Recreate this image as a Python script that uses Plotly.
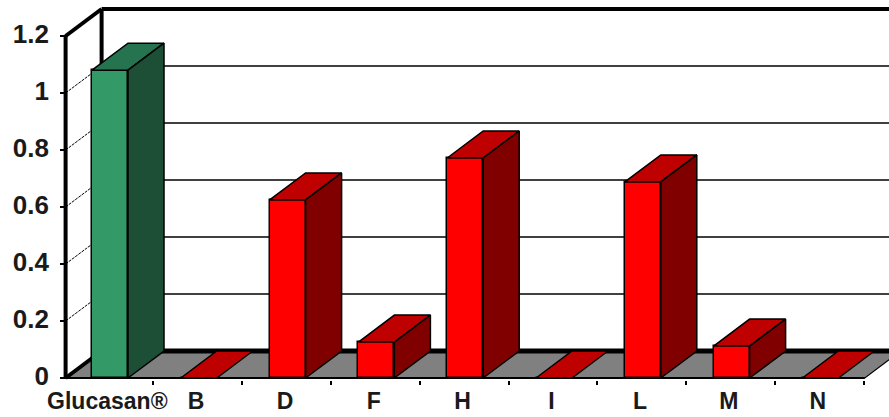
import plotly.graph_objects as go

# Chart data
categories = ["Glucasan®", "B", "D", "F", "H", "I", "L", "M", "N"]
values = [1.08, 0.0, 0.625, 0.126, 0.772, 0.0, 0.688, 0.112, 0.0]
y_ticks = [0, 0.2, 0.4, 0.6, 0.8, 1.0, 1.2]
y_tick_labels = ["0", "0.2", "0.4", "0.6", "0.8", "1", "1.2"]

# Axis scale and pseudo-3D extrusion
PX_PER_CAT = 88.8
PX_PER_UNIT = 285.0
BAR_WIDTH = 36 / PX_PER_CAT
DX = 36 / PX_PER_CAT
DY = 27 / PX_PER_UNIT
X_FRONT_LEFT = -0.5
X_FRONT_RIGHT = len(categories) - 0.5
Y_TOP = y_ticks[-1]
LABEL_SHIFT = 0.03
TICK_SHIFT = 0.012

# Face colours: front, top, side
GREEN = ("#339966", "#267350", "#1c4f36")
RED = ("#ff0000", "#bf0000", "#800000")
palette = [GREEN if i == 0 else RED for i in range(len(categories))]
FLOOR = "#808080"
INK = "#000000"
TEXT = "#1a1a1a"


def poly(points):
    return "M" + "L".join(f"{x},{y}" for x, y in points) + "Z"


def line_shape(x0, y0, x1, y1, width, dash="solid"):
    return dict(type="line", xref="x", yref="y", x0=x0, y0=y0, x1=x1, y1=y1,
                layer="below", line=dict(color=INK, width=width, dash=dash))


shapes = [
    # floor
    dict(type="path", xref="x", yref="y", layer="below", fillcolor=FLOOR,
         line=dict(color=INK, width=1.2),
         path=poly([(X_FRONT_LEFT, 0), (X_FRONT_RIGHT, 0),
                    (X_FRONT_RIGHT + DX, DY), (X_FRONT_LEFT + DX, DY)])),
]
# back-wall gridlines and their dashed returns on the side wall
for t in y_ticks[1:-1]:
    shapes.append(line_shape(X_FRONT_LEFT, t, X_FRONT_LEFT + DX, t + DY, 1, "3px,1px"))
    shapes.append(line_shape(X_FRONT_LEFT + DX, t + DY, X_FRONT_RIGHT + DX, t + DY, 1.5))
# heavy frame of the walls
shapes += [
    line_shape(X_FRONT_LEFT, 0, X_FRONT_LEFT, Y_TOP, 4),
    line_shape(X_FRONT_LEFT, Y_TOP, X_FRONT_LEFT + DX, Y_TOP + DY, 4),
    line_shape(X_FRONT_LEFT + DX, DY, X_FRONT_LEFT + DX, Y_TOP + DY, 4),
    line_shape(X_FRONT_LEFT + DX, Y_TOP + DY, X_FRONT_RIGHT + DX, Y_TOP + DY, 4),
    line_shape(X_FRONT_LEFT, 0, X_FRONT_LEFT + DX, DY, 4),
    line_shape(X_FRONT_LEFT + DX, DY, X_FRONT_RIGHT + DX, DY, 5),
    line_shape(X_FRONT_LEFT, 0, X_FRONT_RIGHT, 0, 2),
]

fig = go.Figure()

# Front faces
fig.add_trace(go.Bar(
    x=list(range(len(categories))), y=values, width=BAR_WIDTH,
    marker=dict(color=[p[0] for p in palette], line=dict(color=INK, width=1.5)),
    showlegend=False, hoverinfo="skip",
))

# Top and side faces extruded from each value
for i, v in enumerate(values):
    left, right = i - BAR_WIDTH / 2, i + BAR_WIDTH / 2
    top_x = [left, right, right + DX, left + DX, left]
    top_y = [v, v, v + DY, v + DY, v]
    fig.add_trace(go.Scatter(
        x=top_x, y=top_y, mode="lines", fill="toself", fillcolor=palette[i][1],
        line=dict(color=INK, width=1.5), showlegend=False, hoverinfo="skip",
    ))
    if v > 0:
        side_x = [right, right + DX, right + DX, right, right]
        side_y = [0, DY, v + DY, v, 0]
        fig.add_trace(go.Scatter(
            x=side_x, y=side_y, mode="lines", fill="toself", fillcolor=palette[i][2],
            line=dict(color=INK, width=1.5), showlegend=False, hoverinfo="skip",
        ))

MARGIN_L, MARGIN_T, MARGIN_B = 60, 5, 37
fig.update_layout(
    width=889, height=417,
    margin=dict(l=MARGIN_L, r=0, t=MARGIN_T, b=MARGIN_B, pad=0),
    paper_bgcolor="white", plot_bgcolor="white",
    shapes=shapes, showlegend=False, bargap=0,
    font=dict(family="Liberation Sans", color=TEXT),
    xaxis=dict(
        range=[(MARGIN_L - 110) / PX_PER_CAT, (889 - 110) / PX_PER_CAT],
        tickmode="array", tickvals=[i - LABEL_SHIFT for i in range(len(categories))],
        ticktext=categories,
        ticks="", showgrid=False, zeroline=False, showline=False,
        tickfont=dict(size=23, weight="bold", color=TEXT), tickangle=0,
        ticklabelstandoff=5,
        minor=dict(tickmode="array",
                   tickvals=[i + 0.5 - TICK_SHIFT for i in range(len(categories))],
                   ticks="outside", ticklen=4, tickwidth=2, tickcolor=INK, showgrid=False),
    ),
    yaxis=dict(
        range=[-2 / PX_PER_UNIT, (378 - MARGIN_T) / PX_PER_UNIT],
        tickmode="array", tickvals=y_ticks, ticktext=y_tick_labels,
        ticks="inside", ticklen=6, tickwidth=2, tickcolor=INK,
        showgrid=False, zeroline=False, showline=False,
        tickfont=dict(size=26, weight="bold", color=TEXT),
        ticklabelstandoff=10, ticklabelshift=-2,
    ),
)

fig.write_html("out.html")
